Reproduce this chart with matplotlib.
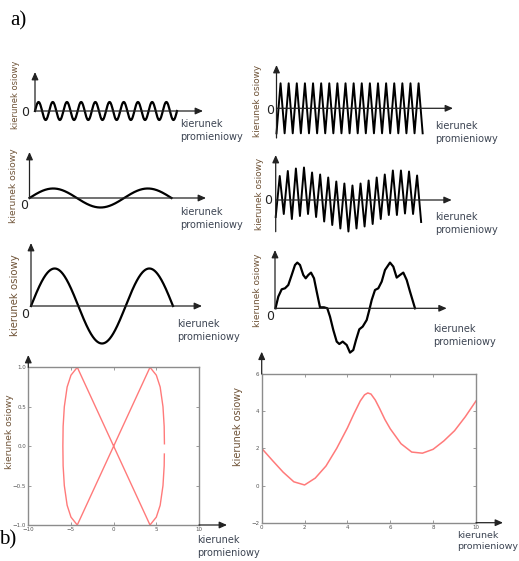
import numpy as np
import matplotlib
matplotlib.use("Agg")
import matplotlib.pyplot as plt

# image size in pixels (figure is laid out in these units)
W, H = 519, 561

# --- a) schematic waveforms -------------------------------------------------
# left column: pure sines, cycles drawn and amplitude (px)
sine_cycles = [10, 1.5, 1.5]
sine_amp = [9, 9.5, 37.5]

# right column, top: uniform zigzag (peaks / troughs, px)
r1_peaks = [25] * 18
r1_troughs = [-25] * 19

# right column, middle: zigzag riding on a slow wave
r2_peaks = [24, 29, 31.5, 32.5, 27.5, 25.5, 22.5, 18.5, 16.5, 14.5,
            16.5, 19.5, 22.5, 25.5, 29.5, 29.5, 28.5, 24.5]
r2_troughs = [-17, -14, -19, -16, -14, -17, -21.5, -25, -28.5, -31.5,
              -28.5, -26.5, -24, -19, -15, -15, -13.5, -14, -22]

# right column, bottom: distorted wave (px)
r3_x = [0.5, 3.3, 6.7, 10, 13.3, 16.7, 20, 22.3, 25, 28.3, 30.7, 33.3, 36,
        39, 41.7, 45, 49, 52.3, 55, 58.3, 61.7, 64.3, 67.7, 71.7, 75, 78.3,
        81, 84.3, 87.7, 91.7, 94.3, 96.7, 100, 103.3, 106.7, 110, 115,
        118.3, 121.7, 125, 128.3, 131.7, 135, 140]
r3_y = [0, 11.7, 19, 20, 23.3, 33.3, 43.3, 45.7, 43.3, 33.3, 30, 33.3, 35.7,
        30, 16.7, 1, 1, 0, -8.3, -21.7, -33.3, -35.7, -33.3, -36.7, -44.3,
        -41.7, -31.7, -21, -18.3, -11.7, -1.7, 8.3, 18.3, 20, 26.7, 38.3,
        45.7, 41.7, 30.7, 33.3, 35.7, 28.3, 16.7, 0]

# --- b) plotted curves ------------------------------------------------------
# closed "bow tie" orbit (starts just above the gap)
liss_x = [5.95, 5.92, 5.78, 5.45, 5.0, 4.26,
          -4.26,
          -5.0, -5.45, -5.78, -5.92, -5.95, -5.92, -5.78, -5.45, -5.0, -4.26,
          4.26,
          5.0, 5.45, 5.78, 5.92, 5.94]
liss_y = [0.03, 0.25, 0.5, 0.75, 0.9, 1.0,
          -1.0,
          -0.9, -0.75, -0.5, -0.25, 0.0, 0.25, 0.5, 0.75, 0.9, 1.0,
          -1.0,
          -0.9, -0.75, -0.5, -0.25, -0.1]
br_x = [0, 0.5, 1, 1.5, 2, 2.5, 3, 3.5, 4, 4.3, 4.6, 4.8, 4.95, 5.1, 5.3,
        5.5, 5.75, 6, 6.5, 7, 7.5, 8, 8.5, 9, 9.5, 10]
br_y = [2.0, 1.35, 0.72, 0.2, 0.03, 0.4, 1.05, 2.0, 3.1, 3.85, 4.55, 4.88,
        4.98, 4.92, 4.6, 4.15, 3.55, 3.05, 2.25, 1.8, 1.74, 1.95, 2.4, 2.95,
        3.7, 4.55]

AX_LABEL = "kierunek osiowy"
RAD_LABEL = "kierunek\npromieniowy"
vcol = "#6e5236"
hcol = "#3c4452"

fig = plt.figure(figsize=(W / 100, H / 100), dpi=100)


def px_rect(l, t, r, b):
    return [l / W, 1 - b / H, (r - l) / W, (b - t) / H]


def ftext(x, y, s, **kw):
    fig.text(x / W, 1 - y / H, s, **kw)


arrow_kw = dict(arrowstyle="-|>,head_length=0.45,head_width=0.2",
                color="#222222", lw=0.9, shrinkA=0, shrinkB=0,
                mutation_scale=10)


def sketch_panel(ox, oy, x_end, y_top, y_bot, axis_bot, sx=1.0):
    ax = fig.add_axes(px_rect(ox, y_top, x_end, y_bot))
    ax.set_xlim(0, (x_end - ox) / sx)
    ax.set_ylim(-(y_bot - oy), oy - y_top)
    ax.axis("off")
    hgt = y_bot - y_top
    f0 = (y_bot - oy) / hgt
    fb = (y_bot - axis_bot) / hgt
    ax.annotate("", xy=(0, 1), xytext=(0, fb), xycoords="axes fraction",
                arrowprops=arrow_kw)
    ax.annotate("", xy=(1, f0), xytext=(0, f0), xycoords="axes fraction",
                arrowprops=arrow_kw)
    return ax


def zigzag(peaks, troughs):
    vals = []
    for i, t in enumerate(troughs):
        vals.append(t)
        if i < len(peaks):
            vals.append(peaks[i])
    return np.arange(len(vals)), np.array(vals)


wave_kw = dict(color="black", lw=1.6, clip_on=False)

# left column
left_boxes = [(35, 111, 203, 72, 124), (29.5, 198, 206, 152, 212),
              (31, 306, 202, 243, 348)]
for (ox, oy, xe, yt, yb), cyc, amp in zip(left_boxes, sine_cycles, sine_amp):
    ax = sketch_panel(ox, oy, xe, yt, yb, oy, sx=142 / cyc)
    t = np.linspace(0, cyc, 600)
    ax.plot(t, amp * np.sin(2 * np.pi * t), **wave_kw)

# right column
ax = sketch_panel(276.5, 108.3, 453, 65, 140, 138, sx=4.06)
ax.plot(*zigzag(r1_peaks, r1_troughs), color="black", lw=1.4, clip_on=False)
ax = sketch_panel(275.7, 200, 451.7, 155, 236, 231.7, sx=4.04)
ax.plot(*zigzag(r2_peaks, r2_troughs), color="black", lw=1.4, clip_on=False)
ax = sketch_panel(275, 308.3, 446.7, 250, 358, 308.3)
ax.plot(r3_x, r3_y, solid_joinstyle="round", **wave_kw)

# zero marks, axis names
for x, y in [(25, 113), (24, 205), (25, 314), (270, 110), (268, 201), (270, 317)]:
    ftext(x, y, "0", fontsize=9, color="#222222", ha="center", va="center")
for x, y, fs in [(15, 95, 6), (14, 186, 6.6), (15, 295, 7.3), (257, 101, 6.4),
                 (259, 194, 6.4), (257, 290, 6.5), (10, 432, 6.6), (238, 426, 7)]:
    ftext(x, y, AX_LABEL, fontsize=fs, color=vcol, rotation=90,
          ha="center", va="center")
for x, y, fs in [(180, 119, 7), (180, 207, 7), (177, 319, 7), (435, 121, 7),
                 (435, 212, 7), (433, 324, 7), (197, 535, 7), (457, 531, 6.8)]:
    ftext(x, y, RAD_LABEL, fontsize=fs, color=hcol, ha="left", va="top",
          linespacing=1.35)

ftext(10, 21, "a)", fontsize=15, family="Liberation Serif", va="center")
ftext(-1, 540, "b)", fontsize=15, family="Liberation Serif", va="center")


# --- Matlab style plots ----------------------------------------------------
def box_axes(l, t, r, b, tip_y, arrow_x):
    ax = fig.add_axes(px_rect(l, t, r, b))
    for s in ax.spines.values():
        s.set_color("#8c8c8c")
        s.set_linewidth(1.0)
    ax.tick_params(direction="in", length=2, width=0.6, colors="#8c8c8c",
                   labelsize=4, labelcolor="#555555", top=True, right=True,
                   pad=1.5)
    hgt, wid = b - t, r - l
    ax.annotate("", xy=(0, 1 + (t - tip_y) / hgt), xytext=(0, 1),
                xycoords="axes fraction", arrowprops=arrow_kw)
    ax.annotate("", xy=(1 + (arrow_x - r) / wid, 0), xytext=(1, 0),
                xycoords="axes fraction", arrowprops=arrow_kw)
    return ax


red = "#ff7a7a"
ax = box_axes(28.3, 367.3, 199, 525, 355, 227)
ax.plot(liss_x, liss_y, color=red, lw=1.0, solid_joinstyle="round")
ax.set_xlim(-10, 10)
ax.set_ylim(-1, 1)
ax.set_xticks([-10, -5, 0, 5, 10])
ax.set_yticks([-1, -0.5, 0, 0.5, 1])

ax = box_axes(261.7, 374, 476, 522.7, 351.7, 503)
ax.plot(br_x, br_y, color=red, lw=1.1, solid_joinstyle="round")
ax.set_xlim(0, 10)
ax.set_ylim(-2, 6)
ax.set_xticks([0, 2, 4, 6, 8, 10])
ax.set_yticks([-2, 0, 2, 4, 6])

fig.savefig("out.png", dpi=100)
